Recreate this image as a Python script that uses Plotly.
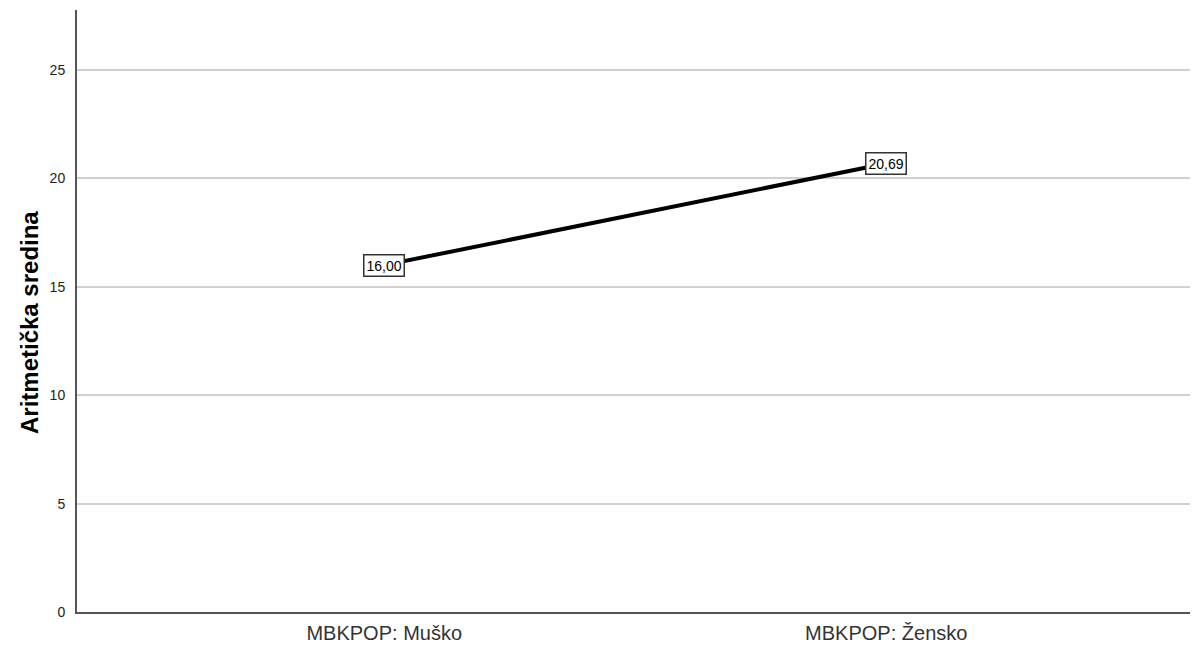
import plotly.graph_objects as go

categories = ["MBKPOP: Muško", "MBKPOP: Žensko"]
means = [16.00, 20.69]
labels = ["16,00", "20,69"]
y_ticks = [0, 5, 10, 15, 20, 25]
y_title = "Aritmetička sredina"

x_idx = list(range(len(categories)))

fig = go.Figure()
fig.add_trace(go.Scatter(
    x=x_idx, y=means, mode="lines",
    line=dict(color="black", width=4),
    hoverinfo="skip", showlegend=False,
))

for xi, v, lab in zip(x_idx, means, labels):
    fig.add_annotation(
        x=xi, y=v, text=lab, showarrow=False,
        font=dict(family="Liberation Sans, Arial", size=14, color="black"),
        bgcolor="white", bordercolor="#333333", borderwidth=1.5, borderpad=2,
        xanchor="center", yanchor="middle",
    )

# y-axis title as a rotated annotation (placed slightly below the plot centre)
fig.add_annotation(
    xref="paper", yref="paper", x=0, y=0.48,
    xshift=-48, text="<b>" + y_title + "</b>", textangle=-90,
    showarrow=False, xanchor="center", yanchor="middle",
    font=dict(family="Liberation Sans, Arial", size=24, color="black"),
)

# The page body has an 8px margin; size and margins compensate for it.
fig.update_layout(
    width=1190, height=642,
    margin=dict(l=69, r=4, t=2, b=38),
    plot_bgcolor="white", paper_bgcolor="white",
    font=dict(family="Liberation Sans, Arial", color="#222222"),
    xaxis=dict(
        range=[-0.612, 1.613],
        tickmode="array", tickvals=x_idx, ticktext=categories,
        tickfont=dict(size=20, color="#333333"),
        showgrid=False, zeroline=False,
        showline=True, linecolor="#555555", linewidth=2,
        ticks="", ticklabelstandoff=2,
    ),
    yaxis=dict(
        range=[0, 27.77],
        tickmode="array", tickvals=y_ticks,
        tickfont=dict(size=14, color="#222222"),
        showgrid=True, gridcolor="#d0d0d0", gridwidth=2,
        zeroline=False,
        showline=True, linecolor="#555555", linewidth=2,
        ticks="", ticklabelstandoff=7,
    ),
)

fig.write_html("out.html")
